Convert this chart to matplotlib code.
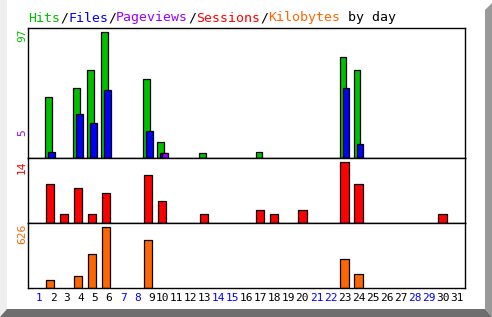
import matplotlib
matplotlib.use("Agg")
import matplotlib.pyplot as plt
from matplotlib.patches import Polygon

# ------------------------------------------------------------
# Data
# ------------------------------------------------------------
days = list(range(1, 32))
weekend_days = [1, 7, 8, 14, 15, 21, 22, 28, 29]

hits = [0, 47, 0, 54, 68, 97, 0, 0, 61, 12, 0, 0, 4, 0, 0, 0,
        5, 0, 0, 0, 0, 0, 78, 68, 0, 0, 0, 0, 0, 0, 0]
files = [0, 5, 0, 34, 27, 52, 0, 0, 21, 4, 0, 0, 0, 0, 0, 0,
         0, 0, 0, 0, 0, 0, 54, 11, 0, 0, 0, 0, 0, 0, 0]
pageviews = [0, 0, 0, 0, 0, 0, 0, 0, 0, 4, 0, 0, 0, 0, 0, 0,
             0, 0, 0, 0, 0, 0, 0, 0, 0, 0, 0, 0, 0, 0, 0]
sessions = [0, 9, 2, 8, 2, 7, 0, 0, 11, 5, 0, 0, 2, 0, 0, 0,
            3, 2, 0, 3, 0, 0, 14, 9, 0, 0, 0, 0, 0, 2, 0]
kilobytes = [0, 79, 0, 120, 346, 626, 0, 0, 493, 0, 0, 0, 0, 0, 0, 0,
             0, 0, 0, 0, 0, 0, 298, 144, 0, 0, 0, 0, 0, 0, 0]

title_parts = [("Hits", "#00c000"), ("/", "black"), ("Files", "#0000ff"),
               ("/", "black"), ("Pageviews", "#9900ff"), ("/", "black"),
               ("Sessions", "#ff0000"), ("/", "black"),
               ("Kilobytes", "#ff6600"), (" by day", "black")]

GREEN, BLUE, PURPLE = "#00c000", "#0000ff", "#9900ff"
RED, ORANGE = "#ff0000", "#ff6600"

W, H = 492, 317
MONO = "DejaVu Sans Mono"


def fx(x):
    return x / W


def fy(y):
    return 1 - y / H


def draw_bars(ax, values, shift, width, color):
    # skip empty days so no edge line doubles the baseline
    xs = [d + shift for d, v in zip(days, values) if v > 0]
    vs = [v for v in values if v > 0]
    ax.bar(xs, vs, width=width, color=color, edgecolor="black", linewidth=0.9)


fig = plt.figure(figsize=(W / 100, H / 100), dpi=100)
fig.patch.set_facecolor("white")

# 3D-ish frame around the picture
frame = [
    ([(0, 0), (7, 0), (7, 309), (0, 317)], "#eeeeee"),
    ([(485, 10), (492, 3), (492, 317), (485, 309)], "#999999"),
    ([(0, 317), (7, 309), (485, 309), (492, 317)], "#6e6e6e"),
]
for pts, col in frame:
    fig.patches.append(Polygon([(fx(x), fy(y)) for x, y in pts], closed=True,
                               transform=fig.transFigure, facecolor=col,
                               edgecolor="none", zorder=0))

# panel layout in pixels
left, right = 28, 465
x0, x1 = 0.43, 31.6
panels = [(28, 158), (158, 223), (223, 288)]
axes = []
for top, bot in panels:
    ax = fig.add_axes([fx(left), fy(bot), (right - left) / W, (bot - top) / H])
    ax.set_xlim(x0, x1)
    ax.set_xticks([])
    ax.set_yticks([])
    for sp in ax.spines.values():
        sp.set_linewidth(1.0)
        sp.set_color("black")
    axes.append(ax)
ax1, ax2, ax3 = axes

px = 1 / 14.02  # one pixel in day units
bw = 6.5 * px
draw_bars(ax1, hits, -1.5 * px, bw, GREEN)
draw_bars(ax1, files, 1.5 * px, bw, BLUE)
draw_bars(ax1, pageviews, 3 * px, bw, PURPLE)
ax1.set_ylim(0, max(hits) * 130 / 126)

draw_bars(ax2, sessions, 0, 8.3 * px, RED)
ax2.set_ylim(0, max(sessions) * 65 / 60.7)

draw_bars(ax3, kilobytes, 0, 8.3 * px, ORANGE)
ax3.set_ylim(0, max(kilobytes) * 65 / 61)

# day labels
for d in days:
    col = BLUE if d in weekend_days else "black"
    xd = d + (3 * px if d < 10 else 0)
    ax3.text(xd, -10 / 65, str(d), transform=ax3.get_xaxis_transform(),
             ha="center", va="center", fontsize=8, family=MONO, color=col)

# max labels on the left
fig.text(fx(22), fy(28), str(max(hits)), rotation=90, ha="center", va="top",
         fontsize=8, family=MONO, color=GREEN)
fig.text(fx(22), fy(133), "5", rotation=90, ha="center", va="center",
         fontsize=8, family=MONO, color=PURPLE)
fig.text(fx(22), fy(160), str(max(sessions)), rotation=90, ha="center",
         va="top", fontsize=8, family=MONO, color=RED)
fig.text(fx(22), fy(224), str(max(kilobytes)), rotation=90, ha="center",
         va="top", fontsize=8, family=MONO, color=ORANGE)

# coloured title, monospace so each char is 8 px wide
pos = 0
for txt, col in title_parts:
    fig.text(fx(28 + pos * 8), fy(18), txt, ha="left", va="center",
             fontsize=9.57, family=MONO, color=col)
    pos += len(txt)

fig.savefig("out.png", dpi=100)
